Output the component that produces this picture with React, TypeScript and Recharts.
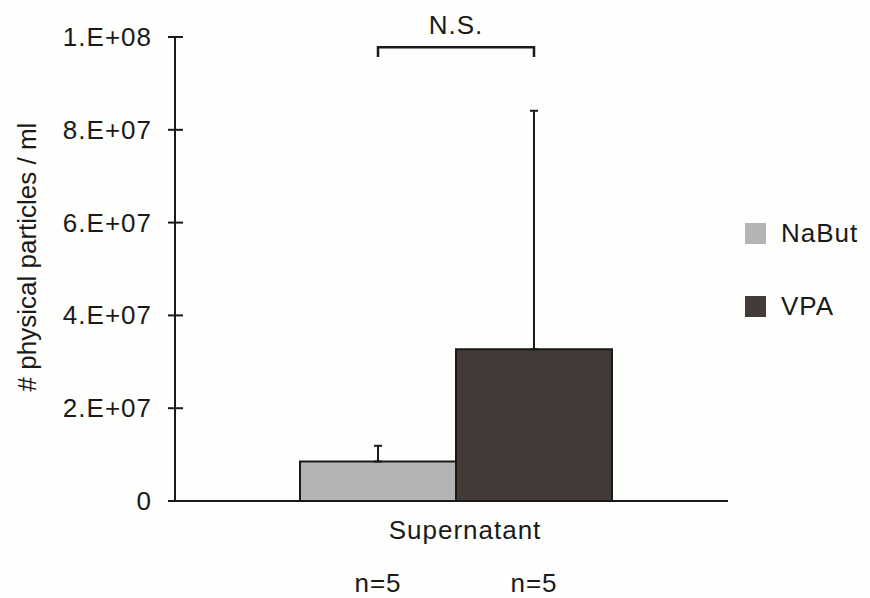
import React from 'react';
import { BarChart, Bar, XAxis, YAxis, ErrorBar, LabelList, Legend } from 'recharts';

// particle counts per condition (mean and upper SD)
const categories = ['Supernatant'];
const nabutMean = [8.5e6];
const nabutSd = [3.4e6];
const vpaMean = [3.27e7];
const vpaSd = [5.14e7];
const sampleSizes = { NaBut: 5, VPA: 5 };

const yTicks = [0, 2e7, 4e7, 6e7, 8e7, 1e8];
const yTickLabels = ['0', '2.E+07', '4.E+07', '6.E+07', '8.E+07', '1.E+08'];

// significance bracket between the two bars
const bracketLevel = 9.78e7;
const bracketDrop = 2.1e6;
const significance = 'N.S.';

const FONT = '"Liberation Sans", Arial, sans-serif';
const INK = '#1a1a1a';
const colors: Record<string, string> = { NaBut: '#b4b4b4', VPA: '#433b37' };

const data = categories.map((name, i) => ({
  name,
  NaBut: nabutMean[i],
  NaButErr: [0, nabutSd[i]],
  VPA: vpaMean[i],
  VPAErr: [0, vpaSd[i]],
}));

const YTick = (props: any) => {
  const { x, y, payload } = props;
  const idx = yTicks.indexOf(payload.value);
  return (
    <g>
      <line x1={x - 7} x2={x + 8} y1={y} y2={y} stroke={INK} strokeWidth={2} />
      <text
        x={x - 23}
        y={y}
        dy={9}
        textAnchor="end"
        fontFamily={FONT}
        fontSize={26}
        letterSpacing={1}
        fill={INK}
      >
        {yTickLabels[idx]}
      </text>
    </g>
  );
};

const XTick = (props: any) => {
  const { x, y, payload } = props;
  return (
    <text
      x={x + 9}
      y={y + 38}
      textAnchor="middle"
      fontFamily={FONT}
      fontSize={26}
      letterSpacing={1}
      fill={INK}
    >
      {payload.value}
    </text>
  );
};

const boxOf = (props: any) => {
  const vb = props.viewBox ?? props;
  return { x: vb.x, y: vb.y, width: vb.width, height: vb.height };
};

const sampleLabel = (n: number) => (props: any) => {
  const { x, y, width, height } = boxOf(props);
  return (
    <text
      x={x + width / 2}
      y={y + height + 91}
      textAnchor="middle"
      fontFamily={FONT}
      fontSize={26}
      letterSpacing={1}
      fill={INK}
    >
      {`n=${n}`}
    </text>
  );
};

// drawn from the VPA bar: spans from the NaBut bar centre to the VPA bar centre
const Bracket = (props: any) => {
  const { x, y, width, height } = boxOf(props);
  const value = Number(props.value);
  const base = y + height;
  const perUnit = height / value;
  const yb = base - bracketLevel * perUnit;
  const yd = yb + bracketDrop * perUnit;
  const left = x - width / 2;
  const right = x + width / 2;
  return (
    <g>
      <polyline
        points={`${left},${yd} ${left},${yb} ${right},${yb} ${right},${yd}`}
        fill="none"
        stroke={INK}
        strokeWidth={2.5}
      />
      <text
        x={(left + right) / 2}
        y={yb - 13}
        textAnchor="middle"
        fontFamily={FONT}
        fontSize={26}
        letterSpacing={1}
        fill={INK}
      >
        {significance}
      </text>
    </g>
  );
};

const LegendContent = (props: any) => {
  const items = (props.payload ?? []) as any[];
  return (
    <div style={{ fontFamily: FONT }}>
      {items.map((it) => (
        <div
          key={it.value}
          style={{ display: 'flex', alignItems: 'center', height: 21, marginBottom: 52 }}
        >
          <span style={{ width: 21, height: 21, background: colors[it.value] }} />
          <span style={{ marginLeft: 15, fontSize: 26, letterSpacing: 1, color: INK }}>
            {it.value}
          </span>
        </div>
      ))}
    </div>
  );
};

export default function App() {
  return (
    <div style={{ position: 'absolute', left: 0, top: 0, width: 870, height: 598, background: '#fefefc' }}>
      <BarChart
        width={870}
        height={598}
        data={data}
        margin={{ top: 37, right: 142, bottom: 67, left: 0 }}
        barCategoryGap={116}
        barGap={0}
      >
        <XAxis
          dataKey="name"
          height={30}
          padding={{ left: 9, right: 0 }}
          axisLine={{ stroke: INK, strokeWidth: 2 }}
          tickLine={false}
          tickSize={0}
          tickMargin={0}
          tick={<XTick />}
        />
        <YAxis
          width={175}
          domain={[0, 1e8]}
          ticks={yTicks}
          interval={0}
          axisLine={{ stroke: INK, strokeWidth: 2 }}
          tickLine={false}
          tickSize={0}
          tickMargin={0}
          tick={<YTick />}
          label={{
            value: '# physical particles / ml',
            angle: -90,
            position: 'insideLeft',
            offset: 0,
            dx: 27,
            dy: -12,
            style: { fontFamily: FONT, fontSize: 26, fill: INK, textAnchor: 'middle' },
          }}
        />
        <Legend
          layout="horizontal"
          verticalAlign="middle"
          align="center"
          content={<LegendContent />}
          wrapperStyle={{ position: 'absolute', left: 745, top: 223, width: 125 }}
        />
        <Bar
          dataKey="NaBut"
          fill={colors.NaBut}
          stroke={INK}
          strokeWidth={2}
          isAnimationActive={false}
        >
          <ErrorBar dataKey="NaButErr" width={4} stroke={INK} strokeWidth={2} direction="y" />
          <LabelList dataKey="NaBut" content={sampleLabel(sampleSizes.NaBut)} />
        </Bar>
        <Bar
          dataKey="VPA"
          fill={colors.VPA}
          stroke={INK}
          strokeWidth={2}
          isAnimationActive={false}
        >
          <ErrorBar dataKey="VPAErr" width={4} stroke={INK} strokeWidth={2} direction="y" />
          <LabelList dataKey="VPA" content={sampleLabel(sampleSizes.VPA)} />
          <LabelList dataKey="VPA" content={Bracket} />
        </Bar>
      </BarChart>
    </div>
  );
}
